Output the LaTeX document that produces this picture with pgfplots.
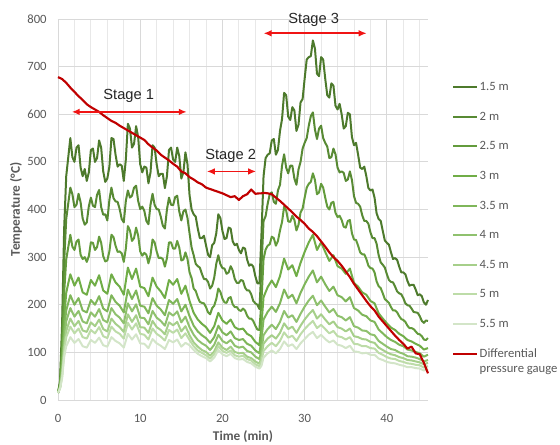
\documentclass[border=0pt]{standalone}
\usepackage{fontspec}
\setmainfont{Carlito}
\newfontfamily\arialfont{Liberation Sans}
\usepackage{pgfplots}
\pgfplotsset{compat=1.18}
\usepackage{pgfplotstable}
\usetikzlibrary{arrows.meta}

\definecolor{cA}{HTML}{4D7A2C}
\definecolor{cB}{HTML}{588A34}
\definecolor{cC}{HTML}{639B3C}
\definecolor{cD}{HTML}{70AD47}
\definecolor{cE}{HTML}{7FB65A}
\definecolor{cF}{HTML}{8FC16E}
\definecolor{cG}{HTML}{A6CF8A}
\definecolor{cH}{HTML}{BDDCA8}
\definecolor{cI}{HTML}{D3E5C8}
\definecolor{gauge}{HTML}{C00000}
\definecolor{arrowred}{HTML}{F01414}
\definecolor{gridmajor}{HTML}{D9D9D9}
\definecolor{gridminor}{HTML}{E8E8E8}
\definecolor{ticktext}{HTML}{595959}
\definecolor{stagetext}{HTML}{262626}

% time (min), temperatures at each depth, differential pressure gauge
% (nan rows: extra readings logged only for the upper thermocouples)
\pgfplotstableread{
t c1 c2 c3 c4 c5 c6 c7 c8 c9 red
0 15 15 15 15 15 15 15 15 15 678
0.25 40 35 32 30 28 27 26 25 24 676
0.5 160 130 105 85 70 62 55 50 45 674
0.75 360 290 225 170 145 125 112 100 90 670
1 470 380 295 225 188 165 145 132 113 666
1.25 510 413 321 245 204 179 158 143 122 661
1.5 550 446 347 264 220 193 171 154 132 656
1.75 510 432 322 nan nan nan nan nan nan nan
2 500 405 315 240 200 175 155 140 120 647
2.25 530 410 333 nan nan nan nan nan nan nan
2.5 535 433 337 257 214 187 166 150 128 638
2.75 488 415 305 nan nan nan nan nan nan nan
3 470 381 296 226 188 165 146 132 113 630
3.25 485 368 300 nan nan nan nan nan nan nan
3.5 460 373 290 221 184 161 143 129 110 621
3.75 478 407 302 nan nan nan nan nan nan nan
4 525 425 331 252 210 184 163 147 126 615
4.25 528 408 330 nan nan nan nan nan nan nan
4.5 500 405 315 240 200 175 155 140 120 610
4.75 508 431 321 nan nan nan nan nan nan nan
5 545 441 343 262 218 191 169 153 131 605
5.25 530 405 330 nan nan nan nan nan nan nan
5.5 480 389 302 230 192 168 149 134 115 598
5.75 458 390 291 nan nan nan nan nan nan nan
6 465 377 293 223 186 163 144 130 112 592
6.25 490 420 312 nan nan nan nan nan nan nan
6.5 550 446 347 264 220 193 171 154 132 586
6.75 548 424 342 nan nan nan nan nan nan nan
7 515 417 324 247 206 180 160 144 124 582
7.25 490 416 311 nan nan nan nan nan nan nan
7.5 495 401 312 238 198 173 153 139 119 576
7.75 492 380 308 nan nan nan nan nan nan nan
8 460 373 290 221 184 161 143 129 110 571
8.25 505 418 318 nan nan nan nan nan nan nan
8.5 580 440 365 278 232 203 180 162 139 566
8.75 570 425 356 nan nan nan nan nan nan nan
9 530 429 334 254 212 186 164 148 127 561
9.25 538 446 340 nan nan nan nan nan nan nan
9.5 575 450 362 276 230 201 178 161 138 556
9.75 552 418 345 nan nan nan nan nan nan nan
10 495 401 312 238 198 173 153 139 119 551
10.25 478 406 303 nan nan nan nan nan nan nan
10.5 490 397 309 235 196 172 152 137 118 546
10.75 488 376 305 nan nan nan nan nan nan nan
11 455 369 287 218 182 159 141 127 109 537
11.25 478 410 304 nan nan nan nan nan nan nan
11.5 535 433 337 257 214 187 166 150 128 530
11.75 530 410 331 nan nan nan nan nan nan nan
12 495 401 312 238 198 173 153 139 119 524
12.25 470 400 298 nan nan nan nan nan nan nan
12.5 475 385 299 228 190 166 147 133 114 515
12.75 475 366 296 nan nan nan nan nan nan nan
13 445 360 280 214 178 156 138 125 107 509
13.25 470 400 298 nan nan nan nan nan nan nan
13.5 525 425 331 252 210 184 163 147 126 503
13.75 530 410 331 nan nan nan nan nan nan nan
14 505 409 318 242 202 177 157 141 121 496
14.25 500 426 318 nan nan nan nan nan nan nan
14.5 530 429 334 254 212 186 164 148 127 490
14.75 512 396 320 nan nan nan nan nan nan nan
15 465 377 293 223 186 163 144 130 112 480
15.25 478 396 295 nan nan nan nan nan nan nan
15.5 520 400 310 240 200 175 155 140 120 476
15.75 495 382 296 nan nan nan nan nan nan nan
16 430 350 268 208 176 153 136 126 115 468
16.25 400 320 256 nan nan nan nan nan nan nan
16.5 390 304 234 183 156 137 121 113 105 463
16.75 385 286 229 nan nan nan nan nan nan nan
17 360 281 216 169 144 126 112 104 97 457
17.25 340 278 206 nan nan nan nan nan nan nan
17.5 340 265 204 160 136 119 105 99 92 453
17.75 345 254 203 nan nan nan nan nan nan nan
18 325 254 195 153 130 114 101 94 88 446
18.25 305 248 184 nan nan nan nan nan nan nan
18.5 300 234 180 141 120 105 93 87 81 443
18.75 325 240 193 nan nan nan nan nan nan nan
19 330 257 198 155 132 116 102 96 89 440
19.25 350 286 212 nan nan nan nan nan nan nan
19.5 390 304 234 183 156 137 121 113 105 437
19.75 382 285 227 nan nan nan nan nan nan nan
20 355 277 213 167 142 124 110 103 96 434
20.25 338 276 205 nan nan nan nan nan nan nan
20.5 340 265 204 160 136 119 105 99 92 430
20.75 362 268 214 nan nan nan nan nan nan nan
21 360 281 216 169 144 126 112 104 97 426
21.25 333 272 201 nan nan nan nan nan nan nan
21.5 325 254 195 153 130 114 101 94 88 428
21.75 328 246 195 nan nan nan nan nan nan nan
22 315 246 189 148 126 110 98 91 85 420
22.25 308 252 187 nan nan nan nan nan nan nan
22.5 320 250 192 150 128 112 99 93 86 428
22.75 318 236 188 nan nan nan nan nan nan nan
23 295 230 177 139 118 103 91 86 80 432
23.25 282 230 171 nan nan nan nan nan nan nan
23.5 285 222 171 134 114 100 88 83 77 442
23.75 280 208 166 nan nan nan nan nan nan nan
24 260 203 156 122 104 91 81 75 70 433
24.25 245 200 148 nan nan nan nan nan nan nan
24.5 245 191 147 115 98 86 76 71 66 434
24.75 350 280 210 160 128 105 92 82 72 434
25 470 376 296 216 169 136 118 103 89 435
25.25 508 386 316 nan nan nan nan nan nan nan
25.5 515 412 324 237 185 149 129 113 98 434
25.75 518 432 327 nan nan nan nan nan nan nan
26 545 436 343 251 196 158 136 120 104 432
26.25 548 416 340 nan nan nan nan nan nan nan
26.5 515 412 324 237 185 149 129 113 98 425
26.75 525 440 334 nan nan nan nan nan nan nan
27 565 452 356 260 203 164 141 124 107 418
27.25 590 492 374 nan nan nan nan nan nan nan
27.5 645 516 406 297 232 187 161 142 123 410
27.75 640 488 398 nan nan nan nan nan nan nan
28 595 476 375 274 214 173 149 131 113 402
28.25 588 492 374 nan nan nan nan nan nan nan
28.5 615 492 387 283 221 178 154 135 117 394
28.75 608 465 378 nan nan nan nan nan nan nan
29 565 452 356 260 203 164 141 124 107 385
29.25 578 484 368 nan nan nan nan nan nan nan
29.5 625 500 394 288 225 181 156 138 119 378
29.75 632 528 402 nan nan nan nan nan nan nan
30 675 540 425 311 243 196 169 149 128 370
30.25 715 550 446 nan nan nan nan nan nan nan
30.5 720 576 454 331 259 209 180 158 137 360
30.75 722 596 458 nan nan nan nan nan nan nan
31 755 604 476 347 272 219 189 166 143 353
31.25 738 568 462 nan nan nan nan nan nan nan
31.5 685 548 432 315 247 199 171 151 130 344
31.75 680 570 436 nan nan nan nan nan nan nan
32 720 576 454 331 259 209 180 158 137 333
32.25 715 550 446 nan nan nan nan nan nan nan
32.5 675 540 425 311 243 196 169 149 128 322
32.75 640 532 406 nan nan nan nan nan nan nan
33 635 508 400 292 229 184 159 140 121 310
33.25 665 510 414 nan nan nan nan nan nan nan
33.5 660 528 416 304 238 191 165 145 125 300
33.75 618 516 393 nan nan nan nan nan nan nan
34 610 488 384 281 220 177 153 134 116 292
34.25 622 478 387 nan nan nan nan nan nan nan
34.5 600 480 378 276 216 174 150 132 114 282
34.75 570 477 364 nan nan nan nan nan nan nan
35 575 460 362 265 207 167 144 127 109 270
35.25 603 463 376 nan nan nan nan nan nan nan
35.5 600 480 378 276 216 174 150 132 114 258
35.75 552 462 350 nan nan nan nan nan nan nan
36 535 428 337 246 193 155 134 118 102 244
36.25 540 414 336 nan nan nan nan nan nan nan
36.5 515 412 324 238 188 152 132 117 101 232
36.75 488 406 310 nan nan nan nan nan nan nan
37 485 388 306 226 179 146 128 113 98 220
37.25 490 376 306 nan nan nan nan nan nan nan
37.5 470 376 296 221 176 145 127 113 99 208
37.75 445 370 282 nan nan nan nan nan nan nan
38 440 352 277 208 167 138 122 109 95 197
38.25 442 340 276 nan nan nan nan nan nan nan
38.5 425 340 268 203 164 136 120 108 95 188
38.75 392 328 249 nan nan nan nan nan nan nan
39 380 304 239 182 148 124 110 99 87 175
39.25 376 289 235 nan nan nan nan nan nan nan
39.5 355 284 224 171 140 118 105 95 84 165
39.75 335 278 212 nan nan nan nan nan nan nan
40 330 264 208 161 132 112 100 90 80 155
40.25 326 252 204 nan nan nan nan nan nan nan
40.5 310 248 195 152 126 107 96 87 78 145
40.75 296 247 188 nan nan nan nan nan nan nan
41 298 238 188 147 122 105 94 86 77 135
41.25 294 228 184 nan nan nan nan nan nan nan
41.5 280 224 176 139 116 100 90 82 74 126
41.75 268 222 170 nan nan nan nan nan nan nan
42 268 214 168 134 113 97 88 80 72 118
42.25 264 203 164 nan nan nan nan nan nan nan
42.5 250 199 156 126 106 92 84 77 69 108
42.75 240 198 151 nan nan nan nan nan nan nan
43 242 192 151 123 104 91 83 76 69 112
43.25 242 185 149 nan nan nan nan nan nan nan
43.5 232 184 144 118 101 89 81 74 67 98
43.75 220 183 139 nan nan nan nan nan nan nan
44 222 176 138 114 98 86 79 73 66 96
44.25 218 166 134 nan nan nan nan nan nan nan
44.5 205 162 127 106 91 81 75 68 62 78
44.75 200 167 126 nan nan nan nan nan nan nan
45 210 166 130 109 95 84 78 71 65 56
}\temps

\begin{document}
\begin{tikzpicture}
\begin{axis}[
  at={(0,0)}, anchor=south west,
  scale only axis, width=277.5pt, height=285.75pt,
  xmin=0, xmax=45, ymin=0, ymax=800,
  xtick={0,10,20,30,40}, ytick={0,100,...,800},
  minor xtick={2,4,6,8,12,14,16,18,22,24,26,28,32,34,36,38,42,44},
  grid=both,
  major grid style={draw=gridmajor, line width=0.6pt},
  minor grid style={draw=gridminor, line width=0.6pt},
  axis line style={draw=none},
  major tick length=0pt, minor tick length=0pt,
  tick label style={font=\fontsize{9.5}{11}\selectfont, text=ticktext},
  /pgf/number format/assume math mode=true,
  xticklabel style={yshift=-7.5pt},
  yticklabel style={xshift=-5pt},
  xlabel={\textbf{Time (min)}},
  ylabel={\textbf{Temperature (°C)}},
  label style={font=\fontsize{10}{12}\selectfont, text=ticktext},
  xlabel style={at={(axis description cs:0.5,-0.0971)}, anchor=center},
  ylabel style={at={(axis description cs:-0.1135,0.5)}, anchor=center},
  clip=false,
  unbounded coords=discard,
  legend cell align=left,
  legend image code/.code={\draw[#1] (0pt,0pt) -- (18pt,0pt);},
  legend style={at={(axis description cs:1,1)}, anchor=north west,
    xshift=18pt, yshift=-45.5pt, draw=none, fill=none,
    font=\fontsize{9.5}{11.5}\selectfont, text=ticktext,
    row sep=11.2pt, inner sep=0pt,
    nodes={inner sep=1pt, text height=7pt, text depth=2pt}},
]
\addplot[cA, line width=1.5pt, line join=round] table[x=t, y=c1] {\temps};
\addlegendentry{1.5 m}
\addplot[cB, line width=1.5pt, line join=round] table[x=t, y=c2] {\temps};
\addlegendentry{2 m}
\addplot[cC, line width=1.5pt, line join=round] table[x=t, y=c3] {\temps};
\addlegendentry{2.5 m}
\addplot[cD, line width=1.5pt, line join=round] table[x=t, y=c4] {\temps};
\addlegendentry{3 m}
\addplot[cE, line width=1.5pt, line join=round] table[x=t, y=c5] {\temps};
\addlegendentry{3.5 m}
\addplot[cF, line width=1.5pt, line join=round] table[x=t, y=c6] {\temps};
\addlegendentry{4 m}
\addplot[cG, line width=1.5pt, line join=round] table[x=t, y=c7] {\temps};
\addlegendentry{4.5 m}
\addplot[cH, line width=1.5pt, line join=round] table[x=t, y=c8] {\temps};
\addlegendentry{5 m}
\addplot[cI, line width=1.5pt, line join=round] table[x=t, y=c9] {\temps};
\addlegendentry{5.5 m}
\addplot[gauge, line width=1.6pt, line join=round] table[x=t, y=red] {\temps};
\addlegendentry{\begin{tabular}[t]{@{}l@{}}Differential\\pressure gauge\end{tabular}}

% stage annotations
\draw[arrowred, line width=1.2pt, {Latex[length=6pt,width=5pt]}-{Latex[length=6pt,width=5pt]}]
  (axis cs:1.67,605) -- (axis cs:15.66,605);
\node[anchor=base, font=\arialfont\fontsize{11}{13}\selectfont, text=stagetext] at (axis cs:8.6,632) {Stage 1};
\draw[arrowred, line width=1.2pt, {Latex[length=6pt,width=5pt]}-{Latex[length=6pt,width=5pt]}]
  (axis cs:18.1,480) -- (axis cs:24.1,480);
\node[anchor=base, font=\arialfont\fontsize{11}{13}\selectfont, text=stagetext] at (axis cs:21.0,504) {Stage 2};
\draw[arrowred, line width=1.2pt, {Latex[length=6pt,width=5pt]}-{Latex[length=6pt,width=5pt]}]
  (axis cs:25.0,770) -- (axis cs:37.55,770);
\node[anchor=base, font=\arialfont\fontsize{11}{13}\selectfont, text=stagetext] at (axis cs:31.1,791) {Stage 3};
\end{axis}
\pgfresetboundingbox
\path[use as bounding box] (-43.5pt,-33pt) rectangle (376.5pt,300pt);
\end{tikzpicture}
\end{document}
